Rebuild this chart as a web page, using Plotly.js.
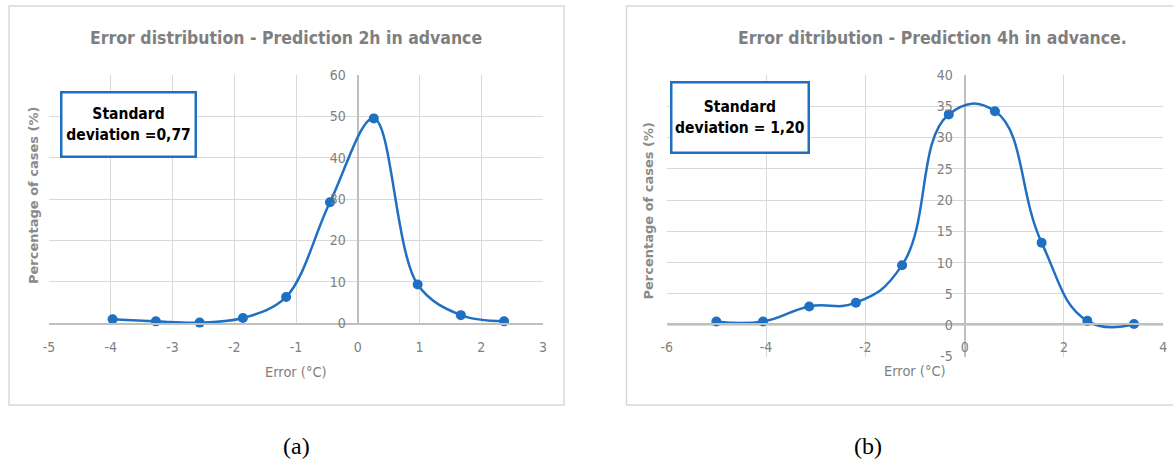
<!DOCTYPE html>
<html>
<head>
<meta charset="utf-8">
<script src="https://cdn.plot.ly/plotly-3.0.1.min.js"></script>
<style>html,body{margin:0;padding:0;background:#fff;}#chart{width:1173px;height:463px;}</style>
</head>
<body>
<div id="chart"></div>
<script>
// ---- data ----
const errorA = [-3.97, -3.27, -2.56, -1.86, -1.16, -0.45, 0.26, 0.97, 1.67, 2.37];
const percentA = [0.9, 0.4, 0.1, 1.2, 6.3, 29.2, 49.5, 9.3, 1.9, 0.4];
const errorB = [-5.0, -4.06, -3.13, -2.19, -1.26, -0.32, 0.61, 1.55, 2.47, 3.41];
const percentB = [0.6, 0.6, 3.0, 3.6, 9.6, 33.7, 34.2, 13.2, 0.7, 0.2];

const xTicksA = [-5, -4, -3, -2, -1, 0, 1, 2, 3];
const xTickTextA = ['-5', '-4', '-3', '-2', '-1', '0', '1', '2', '3'];
const yTicksA = [0, 10, 20, 30, 40, 50, 60];
const yTickTextA = ['0', '10', '20', '30', '40', '50', '60'];
const xTicksB = [-6, -4, -2, 0, 2, 4];
const xTickTextB = ['-6', '-4', '-2', '0', '2', '4'];
const yTicksB = [-5, 0, 5, 10, 15, 20, 25, 30, 35, 40];
const yTickTextB = ['-5', '0', '5', '10', '15', '20', '25', '30', '35', '40'];

const titleA = "Error distribution - Prediction 2h in advance";
const titleB = "Error ditribution - Prediction 4h in advance.";
const boxA = "Standard<br>deviation =0,77";
const boxB = "Standard<br>deviation = 1,20";
const xTitle = "Error (°C)";
const yTitle = "Percentage of cases (%)";

const W = 1173, H = 463;
const px = v => v / W;
const py = v => 1 - v / H;
const narrow = "'Liberation Sans Narrow', 'DejaVu Sans Condensed', 'Roboto', sans-serif";
const blue = '#1f70c2';
const gray = '#7f7f7f';
const grid = '#d9d9d9';
const axisCol = '#bfbfbf';

const tickFont = {family: narrow, size: 14, color: gray};

const traces = [
  {x: errorA, y: percentA, xaxis: 'x', yaxis: 'y', type: 'scatter', mode: 'lines+markers',
   line: {color: blue, width: 2.5, shape: 'spline', smoothing: 1}, marker: {color: blue, size: 10}, cliponaxis: false},
  {x: errorB, y: percentB, xaxis: 'x2', yaxis: 'y2', type: 'scatter', mode: 'lines+markers',
   line: {color: blue, width: 2.5, shape: 'spline', smoothing: 1.3}, marker: {color: blue, size: 10}, cliponaxis: false}
];

function ann(text, x, y, font, extra) {
  return Object.assign({text: text, xref: 'paper', yref: 'paper', x: px(x), y: py(y),
    xanchor: 'center', yanchor: 'middle', showarrow: false, font: font}, extra || {});
}

const layout = {
  width: W, height: H,
  margin: {l: 0, r: 0, t: 0, b: 0},
  paper_bgcolor: '#fff', plot_bgcolor: 'rgba(0,0,0,0)',
  showlegend: false,
  xaxis: {domain: [px(49), px(543)], range: [-5, 3], tickmode: 'array', tickvals: xTicksA, ticktext: xTickTextA,
    anchor: 'y',
    showgrid: true, gridcolor: grid, gridwidth: 1,
    zeroline: true, zerolinecolor: axisCol, zerolinewidth: 2,
    showline: true, linecolor: axisCol, linewidth: 2,
    ticks: '', ticklabelstandoff: 10, tickfont: tickFont, fixedrange: true},
  yaxis: {domain: [py(323), py(75)], range: [0, 60], tickmode: 'array', tickvals: yTicksA, ticktext: yTickTextA,
    anchor: 'free', position: px(357.8),
    showgrid: true, gridcolor: grid, gridwidth: 1,
    zeroline: false, showline: false,
    ticks: '', ticklabelstandoff: 12, tickfont: tickFont, fixedrange: true},
  xaxis2: {domain: [px(666.7), px(1163.3)], range: [-6, 4], tickmode: 'array', tickvals: xTicksB, ticktext: xTickTextB,
    anchor: 'free', position: py(324.3),
    showgrid: true, gridcolor: grid, gridwidth: 1,
    zeroline: true, zerolinecolor: axisCol, zerolinewidth: 2,
    showline: true, linecolor: axisCol, linewidth: 2,
    ticks: '', ticklabelstandoff: 10, tickfont: tickFont, fixedrange: true},
  yaxis2: {domain: [py(356.5), py(75)], range: [-5, 40], tickmode: 'array', tickvals: yTicksB, ticktext: yTickTextB,
    anchor: 'free', position: px(964.7),
    showgrid: true, gridcolor: grid, gridwidth: 1,
    zeroline: false, showline: false,
    ticks: '', ticklabelstandoff: 12, tickfont: tickFont, fixedrange: true},
  shapes: [
    {type: 'rect', xref: 'paper', yref: 'paper', x0: px(9), x1: px(564), y0: py(405), y1: py(6),
     line: {color: grid, width: 1.5}, layer: 'below'},
    {type: 'rect', xref: 'paper', yref: 'paper', x0: px(626.5), x1: px(1180), y0: py(405), y1: py(6),
     line: {color: grid, width: 1.5}, layer: 'below'}
  ],
  annotations: [
    ann('<b>' + titleA + '</b>', 286, 38, {family: narrow, size: 17.5, color: gray}),
    ann('<b>' + titleB + '</b>', 932, 38, {family: narrow, size: 17.5, color: gray}),
    ann(xTitle, 296, 372, {family: narrow, size: 14.5, color: gray}),
    ann(xTitle, 915, 371, {family: narrow, size: 14.5, color: gray}),
    ann('<b>' + yTitle + '</b>', 34, 195, {family: "'DejaVu Sans', sans-serif", size: 13, color: '#8a8a8a'}, {textangle: -90}),
    ann('<b>' + yTitle + '</b>', 647.5, 211, {family: "'DejaVu Sans', sans-serif", size: 13, color: '#8a8a8a'}, {textangle: -90}),
    ann('<b>' + boxA + '</b>', 128, 124, {family: narrow, size: 15.5, color: '#000'},
      {width: 132, height: 62, borderpad: 0, borderwidth: 2.5, bordercolor: blue, bgcolor: '#fff', align: 'center'}),
    ann('<b>' + boxB + '</b>', 739.5, 118, {family: narrow, size: 15.5, color: '#000'},
      {width: 135, height: 68, borderpad: 0, borderwidth: 2.5, bordercolor: blue, bgcolor: '#fff', align: 'center'}),
    ann('(a)', 296, 446, {family: "'Liberation Serif', 'DejaVu Serif', serif", size: 24, color: '#000'}),
    ann('(b)', 868, 446, {family: "'Liberation Serif', 'DejaVu Serif', serif", size: 24, color: '#000'})
  ]
};

Plotly.newPlot('chart', traces, layout, {staticPlot: true, displayModeBar: false});
</script>
</body>
</html>
